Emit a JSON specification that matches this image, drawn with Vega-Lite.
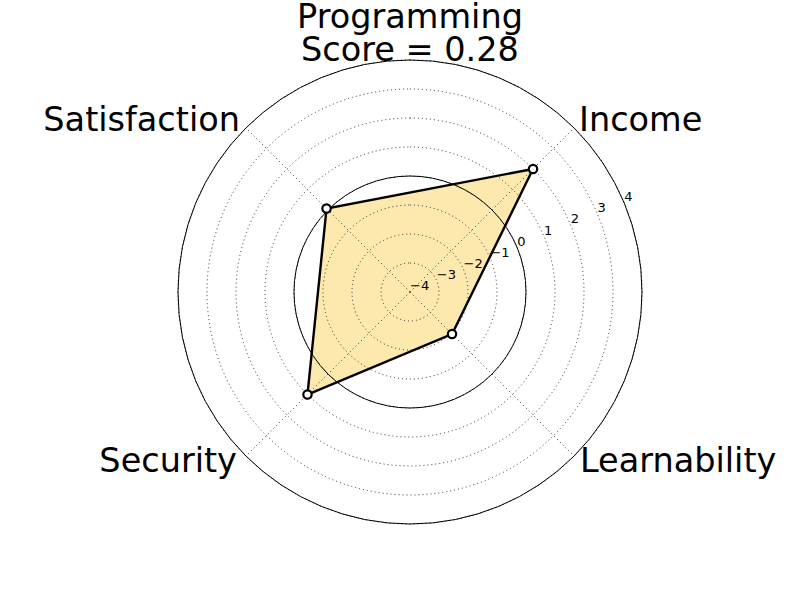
{
  "$schema": "https://vega.github.io/schema/vega-lite/v6.json",
  "width": 800,
  "height": 600,
  "autosize": {"type": "none"},
  "padding": 0,
  "background": "white",
  "config": {"view": {"stroke": null}, "font": "DejaVu Sans"},
  "title": {
    "text": ["Programming", "Score = 0.28"],
    "fontSize": 33.5,
    "font": "DejaVu Sans",
    "fontWeight": "normal",
    "color": "black",
    "anchor": "middle",
    "frame": "group",
    "baseline": "bottom",
    "offset": -101,
    "dx": 10,
    "lineHeight": 32.5
  },
  "datasets": {
    "spokes": [
      {"category": "Income", "angle": 45, "value": 2.0},
      {"category": "Satisfaction", "angle": 135, "value": 0.07},
      {"category": "Security", "angle": 225, "value": 1.0},
      {"category": "Learnability", "angle": 315, "value": -1.95}
    ],
    "rings": [
      {"level": -4}, {"level": -3}, {"level": -2}, {"level": -1}, {"level": 0},
      {"level": 1}, {"level": 2}, {"level": 3}, {"level": 4}
    ]
  },
  "layer": [
    {
      "data": {"name": "spokes"},
      "transform": [
        {"calculate": "(datum.value + 4) * cos(datum.angle * PI / 180)", "as": "px"},
        {"calculate": "(datum.value + 4) * sin(datum.angle * PI / 180)", "as": "py"}
      ],
      "mark": {"type": "line", "interpolate": "linear-closed", "fill": "#fde8ae", "strokeOpacity": 0},
      "encoding": {
        "x": {"field": "px", "type": "quantitative", "scale": {"domain": [-14.1379, 13.4483], "nice": false, "zero": false}, "axis": null},
        "y": {"field": "py", "type": "quantitative", "scale": {"domain": [-10.6207, 10.069], "nice": false, "zero": false}, "axis": null},
        "order": {"field": "angle", "type": "quantitative"}
      }
    },
    {
      "data": {"name": "rings"},
      "transform": [
        {"filter": "datum.level > -4"},
        {"calculate": "datum.level + 4", "as": "r"}
      ],
      "mark": {"type": "arc", "filled": false, "stroke": "black", "strokeWidth": 0.8, "strokeDash": [1, 3], "theta": 0, "theta2": 6.3},
      "encoding": {
        "x": {"datum": 0, "type": "quantitative", "scale": {"domain": [-14.1379, 13.4483], "nice": false, "zero": false}, "axis": null},
        "y": {"datum": 0, "type": "quantitative", "scale": {"domain": [-10.6207, 10.069], "nice": false, "zero": false}, "axis": null},
        "radius": {"field": "r", "type": "quantitative", "stack": null, "scale": {"type": "linear", "domain": [0, 8], "range": [0, 232], "zero": true, "nice": false}}
      }
    },
    {
      "data": {"name": "spokes"},
      "transform": [
        {"calculate": "8 * cos(datum.angle * PI / 180)", "as": "ox"},
        {"calculate": "8 * sin(datum.angle * PI / 180)", "as": "oy"},
        {"calculate": "0", "as": "cx"},
        {"calculate": "0", "as": "cy"}
      ],
      "mark": {"type": "rule", "stroke": "black", "strokeWidth": 0.8, "strokeDash": [1, 3]},
      "encoding": {
        "x": {"field": "cx", "type": "quantitative", "scale": {"domain": [-14.1379, 13.4483], "nice": false, "zero": false}, "axis": null},
        "y": {"field": "cy", "type": "quantitative", "scale": {"domain": [-10.6207, 10.069], "nice": false, "zero": false}, "axis": null},
        "x2": {"field": "ox"},
        "y2": {"field": "oy"}
      }
    },
    {
      "data": {"name": "rings"},
      "transform": [
        {"filter": "datum.level == 0 || datum.level == 4"},
        {"calculate": "datum.level + 4", "as": "r"}
      ],
      "mark": {"type": "arc", "filled": false, "stroke": "black", "strokeWidth": 1, "theta": 0, "theta2": 6.3},
      "encoding": {
        "x": {"datum": 0, "type": "quantitative", "scale": {"domain": [-14.1379, 13.4483], "nice": false, "zero": false}, "axis": null},
        "y": {"datum": 0, "type": "quantitative", "scale": {"domain": [-10.6207, 10.069], "nice": false, "zero": false}, "axis": null},
        "radius": {"field": "r", "type": "quantitative", "stack": null, "scale": {"type": "linear", "domain": [0, 8], "range": [0, 232], "zero": true, "nice": false}}
      }
    },
    {
      "data": {"name": "spokes"},
      "transform": [
        {"calculate": "(datum.value + 4) * cos(datum.angle * PI / 180)", "as": "px"},
        {"calculate": "(datum.value + 4) * sin(datum.angle * PI / 180)", "as": "py"}
      ],
      "mark": {"type": "line", "interpolate": "linear-closed", "stroke": "black", "strokeWidth": 2.4},
      "encoding": {
        "x": {"field": "px", "type": "quantitative", "scale": {"domain": [-14.1379, 13.4483], "nice": false, "zero": false}, "axis": null},
        "y": {"field": "py", "type": "quantitative", "scale": {"domain": [-10.6207, 10.069], "nice": false, "zero": false}, "axis": null},
        "order": {"field": "angle", "type": "quantitative"}
      }
    },
    {
      "data": {"name": "spokes"},
      "transform": [
        {"calculate": "(datum.value + 4) * cos(datum.angle * PI / 180)", "as": "px"},
        {"calculate": "(datum.value + 4) * sin(datum.angle * PI / 180)", "as": "py"}
      ],
      "mark": {"type": "point", "shape": "circle", "filled": true, "fill": "white", "stroke": "black", "strokeWidth": 2.2, "size": 70, "opacity": 1},
      "encoding": {
        "x": {"field": "px", "type": "quantitative", "scale": {"domain": [-14.1379, 13.4483], "nice": false, "zero": false}, "axis": null},
        "y": {"field": "py", "type": "quantitative", "scale": {"domain": [-10.6207, 10.069], "nice": false, "zero": false}, "axis": null}
      }
    },
    {
      "data": {"name": "rings"},
      "transform": [
        {"calculate": "(datum.level + 4) * cos(22.5 * PI / 180)", "as": "tx"},
        {"calculate": "(datum.level + 4) * sin(22.5 * PI / 180)", "as": "ty"}
      ],
      "mark": {"type": "text", "align": "left", "baseline": "alphabetic", "dx": 0, "dy": -2, "fontSize": 13, "font": "DejaVu Sans", "color": "black"},
      "encoding": {
        "x": {"field": "tx", "type": "quantitative", "scale": {"domain": [-14.1379, 13.4483], "nice": false, "zero": false}, "axis": null},
        "y": {"field": "ty", "type": "quantitative", "scale": {"domain": [-10.6207, 10.069], "nice": false, "zero": false}, "axis": null},
        "text": {"field": "level", "type": "quantitative", "format": "d"}
      }
    },
    {
      "data": {"name": "spokes"},
      "transform": [
        {"filter": "datum.category == 'Income'"},
        {"calculate": "8 * cos(datum.angle * PI / 180)", "as": "lx"},
        {"calculate": "8 * sin(datum.angle * PI / 180)", "as": "ly"}
      ],
      "mark": {"type": "text", "align": "left", "baseline": "alphabetic", "dx": 5, "dy": 3.5, "fontSize": 33.5, "font": "DejaVu Sans", "color": "black"},
      "encoding": {
        "x": {"field": "lx", "type": "quantitative", "scale": {"domain": [-14.1379, 13.4483], "nice": false, "zero": false}, "axis": null},
        "y": {"field": "ly", "type": "quantitative", "scale": {"domain": [-10.6207, 10.069], "nice": false, "zero": false}, "axis": null},
        "text": {"field": "category"}
      }
    },
    {
      "data": {"name": "spokes"},
      "transform": [
        {"filter": "datum.category == 'Satisfaction'"},
        {"calculate": "8 * cos(datum.angle * PI / 180)", "as": "lx"},
        {"calculate": "8 * sin(datum.angle * PI / 180)", "as": "ly"}
      ],
      "mark": {"type": "text", "align": "right", "baseline": "alphabetic", "dx": -6, "dy": 3.5, "fontSize": 33.5, "font": "DejaVu Sans", "color": "black"},
      "encoding": {
        "x": {"field": "lx", "type": "quantitative", "scale": {"domain": [-14.1379, 13.4483], "nice": false, "zero": false}, "axis": null},
        "y": {"field": "ly", "type": "quantitative", "scale": {"domain": [-10.6207, 10.069], "nice": false, "zero": false}, "axis": null},
        "text": {"field": "category"}
      }
    },
    {
      "data": {"name": "spokes"},
      "transform": [
        {"filter": "datum.category == 'Security'"},
        {"calculate": "8 * cos(datum.angle * PI / 180)", "as": "lx"},
        {"calculate": "8 * sin(datum.angle * PI / 180)", "as": "ly"}
      ],
      "mark": {"type": "text", "align": "right", "baseline": "alphabetic", "dx": -9, "dy": 15.5, "fontSize": 33.5, "font": "DejaVu Sans", "color": "black"},
      "encoding": {
        "x": {"field": "lx", "type": "quantitative", "scale": {"domain": [-14.1379, 13.4483], "nice": false, "zero": false}, "axis": null},
        "y": {"field": "ly", "type": "quantitative", "scale": {"domain": [-10.6207, 10.069], "nice": false, "zero": false}, "axis": null},
        "text": {"field": "category"}
      }
    },
    {
      "data": {"name": "spokes"},
      "transform": [
        {"filter": "datum.category == 'Learnability'"},
        {"calculate": "8 * cos(datum.angle * PI / 180)", "as": "lx"},
        {"calculate": "8 * sin(datum.angle * PI / 180)", "as": "ly"}
      ],
      "mark": {"type": "text", "align": "left", "baseline": "alphabetic", "dx": 6, "dy": 15.5, "fontSize": 33.5, "font": "DejaVu Sans", "color": "black"},
      "encoding": {
        "x": {"field": "lx", "type": "quantitative", "scale": {"domain": [-14.1379, 13.4483], "nice": false, "zero": false}, "axis": null},
        "y": {"field": "ly", "type": "quantitative", "scale": {"domain": [-10.6207, 10.069], "nice": false, "zero": false}, "axis": null},
        "text": {"field": "category"}
      }
    }
  ]
}
